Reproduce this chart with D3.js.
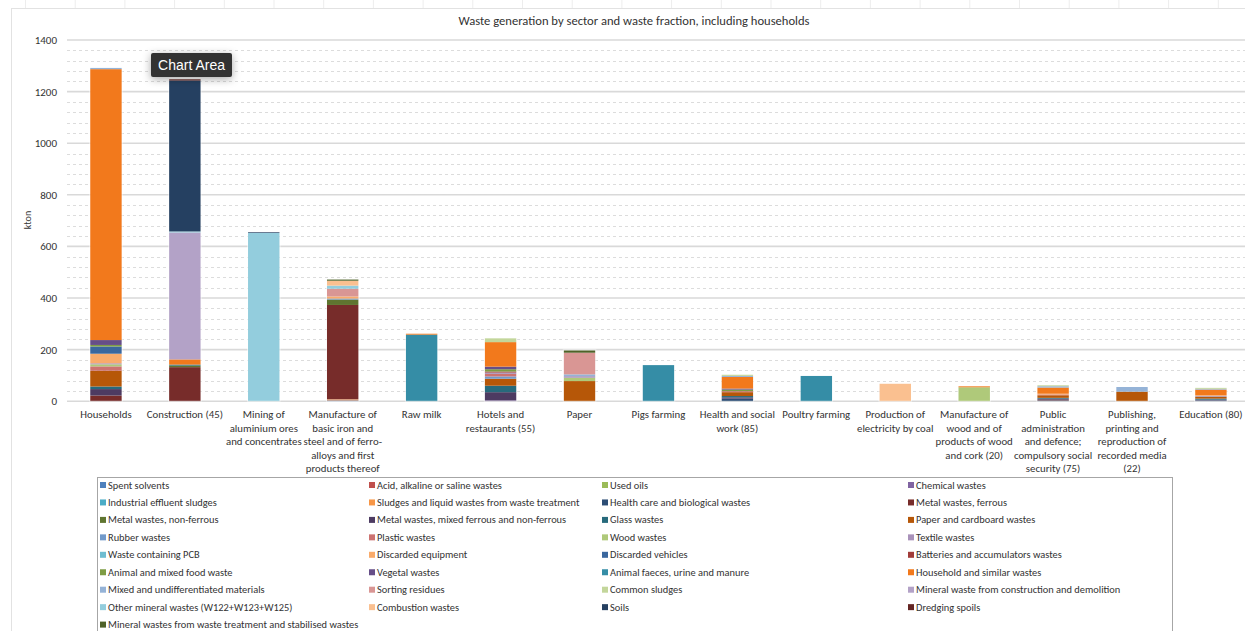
<!DOCTYPE html>
<html>
<head>
<meta charset="utf-8">
<script src="https://cdn.jsdelivr.net/npm/d3@7"></script>
<style>
  body { margin: 0; background: #fff; }
  svg { display: block; font-family: Carlito, Lato, "Open Sans", sans-serif; }
</style>
</head>
<body>
<svg id="chart" width="1245" height="631"></svg>
<script>
// Sectors along the x axis (line breaks as they are set under each bar)
const sectors = [
  "Households",
  "Construction (45)",
  "Mining of\naluminium ores\nand concentrates",
  "Manufacture of\nbasic iron and\nsteel and of ferro-\nalloys and first\nproducts thereof",
  "Raw milk",
  "Hotels and\nrestaurants (55)",
  "Paper",
  "Pigs farming",
  "Health and social\nwork (85)",
  "Poultry farming",
  "Production of\nelectricity by coal",
  "Manufacture of\nwood and of\nproducts of wood\nand cork (20)",
  "Public\nadministration\nand defence;\ncompulsory social\nsecurity (75)",
  "Publishing,\nprinting and\nreproduction of\nrecorded media\n(22)",
  "Education (80)"
];

// Waste fractions, in stacking order (bottom first)
const fractions = [
  "Spent solvents", "Acid, alkaline or saline wastes", "Used oils", "Chemical wastes",
  "Industrial effluent sludges", "Sludges and liquid wastes from waste treatment", "Health care and biological wastes", "Metal wastes, ferrous",
  "Metal wastes, non-ferrous", "Metal wastes, mixed ferrous and non-ferrous", "Glass wastes", "Paper and cardboard wastes",
  "Rubber wastes", "Plastic wastes", "Wood wastes", "Textile wastes",
  "Waste containing PCB", "Discarded equipment", "Discarded vehicles", "Batteries and accumulators wastes",
  "Animal and mixed food waste", "Vegetal wastes", "Animal faeces, urine and manure", "Household and similar wastes",
  "Mixed and undifferentiated materials", "Sorting residues", "Common sludges", "Mineral waste from construction and demolition",
  "Other mineral wastes (W122+W123+W125)", "Combustion wastes", "Soils", "Dredging spoils",
  "Mineral wastes from waste treatment and stabilised wastes"
];

const fractionColors = [
  "#4F81BD", "#C0504D", "#9BBB59", "#8064A2",
  "#4BACC6", "#F79646", "#2C4D75", "#772C2A",
  "#5F7530", "#4D3B62", "#276A7C", "#B65708",
  "#729ACA", "#CD7371", "#AFC97A", "#A992BA",
  "#6FBDD1", "#F9AB6B", "#3A679E", "#A13C39",
  "#7E9C44", "#664E88", "#358DA6", "#F2791C",
  "#95B3D7", "#D99694", "#C3D69B", "#B3A2C7",
  "#93CDDD", "#FAC090", "#254061", "#632523",
  "#4F6228"
];

// kton per sector, one array per fraction (same order as sectors)
const spentSolvents      = [0, 0, 0, 1, 0, 0, 0, 0, 0, 0, 0, 0, 0, 0, 0];
const acidWastes         = [0, 0, 0, 2, 0, 0, 0, 0, 0, 0, 0, 0, 0, 0, 0];
const usedOils           = [0, 0, 0, 1, 0, 0, 0, 0, 0, 0, 0, 0, 0, 0, 0];
const chemicalWastes     = [0, 0, 0, 2, 0, 3, 0, 0, 0, 0, 0, 0, 0, 0, 0];
const effluentSludges    = [0, 0, 0, 0, 0, 0, 0, 0, 0, 0, 0, 0, 0, 0, 0];
const liquidWastes       = [0, 0, 0, 2, 0, 0, 0, 0, 0, 0, 0, 0, 0, 0, 0];
const healthCare         = [0, 0, 0, 0, 0, 0, 0, 0, 10, 0, 0, 0, 3, 0, 3];
const metalFerrous       = [22, 132, 0, 365, 0, 0, 0, 0, 0, 0, 0, 0, 3, 0, 0];
const metalNonFerrous    = [0, 6, 0, 21, 0, 0, 0, 0, 0, 0, 0, 0, 0, 0, 0];
const metalMixed         = [25, 0, 0, 0, 0, 32, 0, 0, 5, 0, 0, 0, 4, 0, 3];
const glassWastes        = [10, 4, 0, 0, 0, 25, 0, 0, 5, 0, 0, 0, 3, 0, 4];
const paperCardboard     = [61, 0, 0, 0, 0, 27, 78, 0, 15, 0, 0, 0, 10, 37, 7];
const rubberWastes       = [0, 0, 0, 4, 0, 9, 0, 0, 0, 0, 0, 0, 0, 0, 2];
const plasticWastes      = [17, 0, 0, 0, 0, 10, 0, 0, 4, 0, 0, 0, 3, 0, 2];
const woodWastes         = [8, 0, 0, 0, 0, 0, 13, 0, 0, 0, 0, 54, 0, 0, 0];
const textileWastes      = [4, 0, 0, 0, 0, 5, 6, 0, 0, 0, 0, 0, 0, 0, 0];
const pcbWastes          = [0, 0, 0, 0, 0, 0, 0, 0, 0, 0, 0, 0, 0, 0, 0];
const discardedEquipment = [37, 0, 0, 8, 0, 0, 0, 0, 0, 0, 0, 0, 3, 0, 2];
const discardedVehicles  = [28, 0, 0, 0, 0, 0, 0, 0, 0, 0, 0, 0, 0, 0, 0];
const batteries          = [0, 0, 0, 0, 0, 4, 0, 0, 0, 0, 0, 0, 0, 0, 0];
const foodWaste          = [6, 0, 0, 0, 0, 9, 0, 0, 6, 0, 0, 0, 0, 0, 0];
const vegetalWastes      = [19, 0, 0, 0, 0, 10, 0, 0, 4, 0, 0, 0, 0, 0, 0];
const animalFaeces       = [0, 0, 0, 0, 258, 0, 0, 140, 0, 98, 0, 0, 0, 0, 0];
const householdWastes    = [1050, 20, 0, 0, 4, 95, 0, 0, 45, 0, 0, 4, 24, 0, 22];
const mixedMaterials     = [5, 0, 0, 0, 0, 0, 7, 0, 4, 0, 0, 0, 5, 18, 3];
const sortingResidues    = [0, 0, 0, 30, 0, 0, 84, 0, 0, 0, 0, 0, 0, 0, 0];
const commonSludges      = [0, 0, 0, 0, 0, 15, 0, 0, 5, 0, 0, 0, 4, 0, 4];
const mineralConstruction= [0, 492, 0, 0, 0, 0, 0, 0, 0, 0, 0, 0, 0, 0, 0];
const otherMineral       = [0, 4, 652, 12, 0, 0, 0, 0, 0, 0, 0, 0, 0, 0, 0];
const combustionWastes   = [0, 0, 0, 19, 0, 0, 0, 0, 0, 0, 68, 0, 0, 0, 0];
const soils              = [0, 585, 3, 0, 0, 0, 0, 0, 0, 0, 0, 0, 0, 0, 0];
const dredgingSpoils     = [0, 5, 0, 0, 0, 0, 0, 0, 0, 0, 0, 0, 0, 0, 0];
const mineralTreatment   = [0, 0, 0, 5, 0, 0, 9, 0, 0, 0, 0, 0, 0, 0, 0];

const fractionValues = [
  spentSolvents, acidWastes, usedOils, chemicalWastes,
  effluentSludges, liquidWastes, healthCare, metalFerrous,
  metalNonFerrous, metalMixed, glassWastes, paperCardboard,
  rubberWastes, plasticWastes, woodWastes, textileWastes,
  pcbWastes, discardedEquipment, discardedVehicles, batteries,
  foodWaste, vegetalWastes, animalFaeces, householdWastes,
  mixedMaterials, sortingResidues, commonSludges, mineralConstruction,
  otherMineral, combustionWastes, soils, dredgingSpoils,
  mineralTreatment
];

const yMajorTicks = [0, 200, 400, 600, 800, 1000, 1200, 1400];
const yMinorStep = 40;

const svg = d3.select("#chart");

// faint sheet grid above the chart frame
const sheet = svg.append("g");
d3.range(25.5, 1245, 49.7).forEach(x => {
  sheet.append("line").attr("x1", x).attr("x2", x).attr("y1", 0).attr("y2", 8)
    .attr("stroke", "#ededed").attr("stroke-width", 1);
});
svg.append("rect").attr("x", 11.5).attr("y", 8.5).attr("width", 1260).attr("height", 640)
  .attr("fill", "#fff").attr("stroke", "#e2e2e2").attr("stroke-width", 1);

const x = d3.scaleBand()
  .domain(d3.range(sectors.length))
  .range([66.5, 1250.4])
  .paddingInner(0.6)
  .paddingOuter(0.3);

const y = d3.scaleLinear().domain([0, 1400]).range([401.2, 40]);

// gridlines
const grid = svg.append("g");
d3.range(0, 1400 + 1, yMinorStep).filter(v => v % 200 !== 0).forEach(v => {
  grid.append("line")
    .attr("x1", 67).attr("x2", 1245)
    .attr("y1", Math.round(y(v)) + 0.5).attr("y2", Math.round(y(v)) + 0.5)
    .attr("stroke", "#dcdcdc").attr("stroke-width", 1)
    .attr("stroke-dasharray", "3,3");
});
yMajorTicks.forEach(v => {
  grid.append("line")
    .attr("x1", 67).attr("x2", 1245)
    .attr("y1", y(v)).attr("y2", y(v))
    .attr("stroke", "#d9d9d9").attr("stroke-width", 1.6);
});

// y axis labels
const yAxis = svg.append("g")
  .attr("transform", "translate(67,0)")
  .call(d3.axisLeft(y).tickValues(yMajorTicks).tickSize(0).tickPadding(10).tickFormat(d3.format("d")));
yAxis.select(".domain").remove();
yAxis.selectAll("text").attr("font-family", "Carlito, Lato, sans-serif")
  .attr("font-size", 11).attr("fill", "#333");

svg.append("text")
  .attr("transform", "translate(31,220) rotate(-90)")
  .attr("text-anchor", "middle")
  .attr("font-size", 10).attr("fill", "#333")
  .text("kton");

// stacked bars
const rows = sectors.map((s, i) => ({ index: i, values: fractionValues.map(arr => arr[i]) }));
const stack = d3.stack()
  .keys(d3.range(fractions.length))
  .value((d, k) => d.values[k]);
const layers = stack(rows);

svg.append("g").selectAll("g")
  .data(layers)
  .join("g")
  .attr("fill", (d, k) => fractionColors[k])
  .selectAll("rect")
  .data(d => d.filter(p => p[1] - p[0] > 0))
  .join("rect")
  .attr("x", p => x(p.data.index))
  .attr("width", x.bandwidth())
  .attr("y", p => y(p[1]))
  .attr("height", p => y(p[0]) - y(p[1]));

// bar outlines
svg.append("g").selectAll("rect")
  .data(rows)
  .join("rect")
  .attr("x", d => x(d.index) - 0.5)
  .attr("width", x.bandwidth() + 1)
  .attr("y", d => y(d3.sum(d.values)) - 0.5)
  .attr("height", d => y(0) - y(d3.sum(d.values)) + 0.5)
  .attr("fill", "none")
  .attr("stroke", "#fff")
  .attr("stroke-opacity", 0.55)
  .attr("stroke-width", 1);

// sector labels
const xLabels = svg.append("g");
sectors.forEach((s, i) => {
  const t = xLabels.append("text")
    .attr("x", x(i) + x.bandwidth() / 2)
    .attr("y", 418)
    .attr("text-anchor", "middle")
    .attr("font-size", 10.8).attr("fill", "#333");
  s.split("\n").forEach((line, j) => {
    t.append("tspan").attr("x", x(i) + x.bandwidth() / 2)
      .attr("dy", j === 0 ? 0 : 13.6).text(line);
  });
});

// title
svg.append("text")
  .attr("x", 634).attr("y", 25)
  .attr("text-anchor", "middle")
  .attr("font-size", 12.6).attr("fill", "#333")
  .text("Waste generation by sector and waste fraction, including households");

// legend
const legend = svg.append("g");
legend.append("rect").attr("x", 97.5).attr("y", 477.5).attr("width", 1075).attr("height", 170)
  .attr("fill", "#fff").attr("stroke", "#a6a6a6").attr("stroke-width", 1);
const legendCols = [100, 369, 602, 908];
fractions.forEach((name, k) => {
  const col = k % 4, row = Math.floor(k / 4);
  const lx = legendCols[col], ly = 485 + row * 17.45;
  legend.append("rect").attr("x", lx).attr("y", ly - 3).attr("width", 6).attr("height", 6)
    .attr("fill", fractionColors[k]);
  legend.append("text").attr("x", lx + 8).attr("y", ly + 3.5)
    .attr("font-size", 10.4).attr("fill", "#333").text(name);
});

// hover tooltip over the chart area
const tip = svg.append("g");
const defs = svg.append("defs");
const f = defs.append("filter").attr("id", "tipShadow").attr("x", "-30%").attr("y", "-50%").attr("width", "160%").attr("height", "200%");
f.append("feDropShadow").attr("dx", 0).attr("dy", 2).attr("stdDeviation", 4).attr("flood-color", "#000").attr("flood-opacity", 0.35);
tip.append("rect").attr("x", 151).attr("y", 53).attr("width", 81).attr("height", 24).attr("rx", 2)
  .attr("fill", "#333").attr("filter", "url(#tipShadow)");
tip.append("text").attr("x", 191.5).attr("y", 70).attr("text-anchor", "middle")
  .attr("font-family", "Liberation Sans, Arial, sans-serif").attr("font-size", 14).attr("fill", "#fff")
  .text("Chart Area");
</script>
</body>
</html>
